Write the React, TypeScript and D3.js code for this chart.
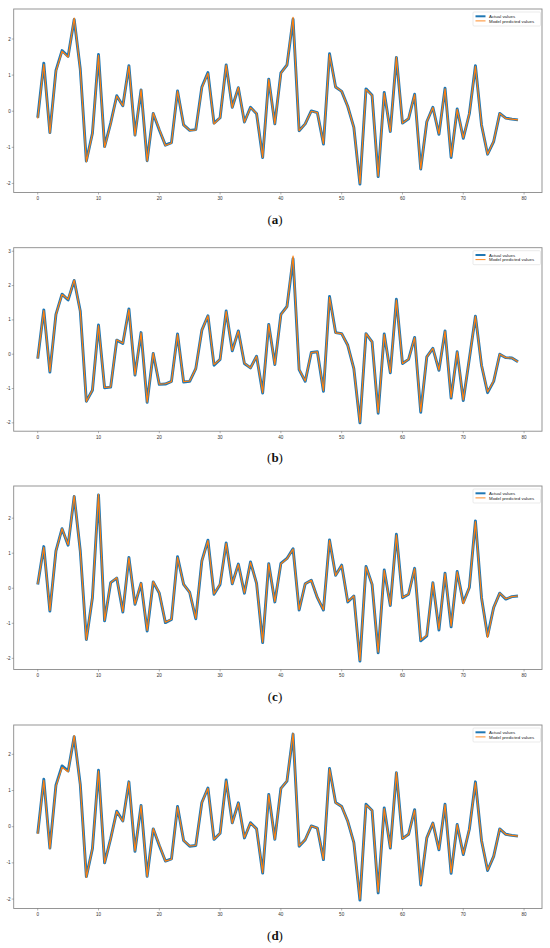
import React from "react";
import * as d3 from "d3";

// x positions 0..79 for every panel
const steps = d3.range(80);

const actualA = [
  -0.18, 1.33, -0.59, 1.13, 1.68, 1.52, 2.54, 1.17, -1.38, -0.61,
  1.57, -0.98, -0.33, 0.43, 0.15, 1.26, -0.66, 0.59, -1.37, -0.06,
  -0.52, -0.94, -0.87, 0.56, -0.38, -0.53, -0.51, 0.67, 1.07, -0.33,
  -0.18, 1.28, 0.11, 0.65, -0.3, 0.11, -0.07, -1.28, 0.89, -0.35,
  1.06, 1.28, 2.55, -0.54, -0.35, 0.01, -0.04, -0.91, 1.59, 0.67,
  0.55, 0.13, -0.45, -2.02, 0.62, 0.44, -1.81, 0.52, -0.56, 1.49,
  -0.33, -0.21, 0.47, -1.6, -0.29, 0.11, -0.64, 0.64, -1.28, 0.06,
  -0.75, -0.07, 1.26, -0.38, -1.19, -0.84, -0.06, -0.19, -0.22, -0.24,
];
const predictedA = [
  -0.2, 1.3, -0.6, 1.1, 1.66, 1.5, 2.58, 1.15, -1.4, -0.62,
  1.55, -1.0, -0.35, 0.42, 0.15, 1.25, -0.67, 0.6, -1.38, -0.05,
  -0.5, -0.95, -0.88, 0.56, -0.38, -0.53, -0.52, 0.65, 1.05, -0.35,
  -0.18, 1.28, 0.1, 0.66, -0.3, 0.1, -0.06, -1.28, 0.88, -0.35,
  1.05, 1.28, 2.6, -0.54, -0.35, 0.0, -0.04, -0.9, 1.57, 0.67,
  0.55, 0.13, -0.45, -2.0, 0.6, 0.44, -1.8, 0.5, -0.56, 1.5,
  -0.33, -0.2, 0.46, -1.6, -0.29, 0.1, -0.63, 0.62, -1.26, 0.05,
  -0.74, -0.07, 1.24, -0.38, -1.19, -0.83, -0.06, -0.2, -0.22, -0.24,
];

const actualB = [
  -0.13, 1.29, -0.52, 1.16, 1.75, 1.58, 2.15, 1.26, -1.37, -1.05,
  0.85, -0.98, -0.96, 0.41, 0.31, 1.32, -0.61, 0.63, -1.4, 0.02,
  -0.88, -0.87, -0.79, 0.59, -0.81, -0.79, -0.42, 0.7, 1.12, -0.32,
  -0.15, 1.26, 0.1, 0.68, -0.27, -0.4, -0.06, -1.13, 0.87, -0.3,
  1.16, 1.39, 2.78, -0.45, -0.79, 0.05, 0.07, -1.08, 1.68, 0.63,
  0.6, 0.26, -0.42, -2.0, 0.6, 0.36, -1.72, 0.59, -0.54, 1.6,
  -0.27, -0.15, 0.49, -1.69, -0.08, 0.17, -0.47, 0.68, -1.28, 0.07,
  -1.35, -0.13, 1.11, -0.32, -1.12, -0.79, 0.0, -0.1, -0.11, -0.22,
];
const predictedB = [
  -0.12, 1.27, -0.5, 1.15, 1.74, 1.6, 2.16, 1.25, -1.38, -1.04,
  0.83, -0.97, -0.95, 0.42, 0.32, 1.3, -0.6, 0.62, -1.4, 0.03,
  -0.87, -0.86, -0.8, 0.58, -0.8, -0.78, -0.42, 0.7, 1.12, -0.3,
  -0.15, 1.25, 0.11, 0.67, -0.26, -0.4, -0.06, -1.12, 0.86, -0.3,
  1.15, 1.38, 2.86, -0.44, -0.78, 0.05, 0.07, -1.06, 1.66, 0.62,
  0.6, 0.26, -0.42, -1.98, 0.6, 0.36, -1.7, 0.58, -0.53, 1.58,
  -0.27, -0.15, 0.48, -1.67, -0.08, 0.17, -0.46, 0.67, -1.26, 0.07,
  -1.33, -0.13, 1.1, -0.32, -1.1, -0.78, 0.0, -0.1, -0.11, -0.22,
];

const actualC = [
  0.11, 1.19, -0.65, 1.07, 1.7, 1.23, 2.62, 1.07, -1.46, -0.27,
  2.66, -0.93, 0.16, 0.29, -0.68, 0.88, -0.46, 0.14, -1.22, 0.18,
  -0.14, -0.98, -0.89, 0.9, 0.11, -0.12, -0.87, 0.78, 1.37, -0.17,
  0.11, 1.29, 0.13, 0.69, -0.14, 0.75, 0.14, -1.55, 0.7, -0.39,
  0.71, 0.85, 1.13, -0.62, 0.13, 0.23, -0.27, -0.62, 1.38, 0.37,
  0.66, -0.39, -0.22, -2.08, 0.62, 0.11, -1.84, 0.52, -0.49, 1.54,
  -0.27, -0.17, 0.57, -1.5, -1.36, 0.16, -1.19, 0.43, -1.1, 0.48,
  -0.41, 0.02, 1.92, -0.27, -1.36, -0.55, -0.14, -0.31, -0.24, -0.22,
];
const predictedC = [
  0.12, 1.17, -0.63, 1.06, 1.7, 1.24, 2.64, 1.06, -1.47, -0.26,
  2.68, -0.92, 0.16, 0.3, -0.67, 0.87, -0.45, 0.15, -1.2, 0.19,
  -0.13, -0.97, -0.88, 0.88, 0.11, -0.12, -0.86, 0.77, 1.36, -0.16,
  0.12, 1.28, 0.13, 0.68, -0.13, 0.74, 0.14, -1.54, 0.7, -0.38,
  0.7, 0.84, 1.12, -0.61, 0.13, 0.23, -0.26, -0.61, 1.37, 0.37,
  0.65, -0.38, -0.22, -2.06, 0.61, 0.12, -1.82, 0.51, -0.48, 1.52,
  -0.26, -0.17, 0.56, -1.48, -1.34, 0.16, -1.17, 0.42, -1.08, 0.47,
  -0.44, 0.03, 1.9, -0.27, -1.4, -0.55, -0.14, -0.3, -0.24, -0.22,
];

const actualD = [
  -0.19, 1.31, -0.59, 1.15, 1.68, 1.54, 2.49, 1.17, -1.38, -0.61,
  1.56, -1.0, -0.33, 0.43, 0.16, 1.24, -0.68, 0.59, -1.37, -0.06,
  -0.52, -0.95, -0.89, 0.56, -0.38, -0.54, -0.52, 0.67, 1.07, -0.35,
  -0.18, 1.29, 0.11, 0.66, -0.31, 0.11, -0.06, -1.28, 0.89, -0.35,
  1.06, 1.26, 2.56, -0.54, -0.36, 0.02, -0.04, -0.91, 1.61, 0.67,
  0.56, 0.15, -0.44, -2.03, 0.62, 0.45, -1.83, 0.52, -0.59, 1.49,
  -0.33, -0.21, 0.47, -1.61, -0.31, 0.1, -0.64, 0.62, -1.29, 0.06,
  -0.77, -0.07, 1.24, -0.38, -1.21, -0.82, -0.06, -0.21, -0.24, -0.26,
];
const predictedD = [
  -0.2, 1.28, -0.6, 1.12, 1.64, 1.52, 2.52, 1.15, -1.4, -0.6,
  1.54, -1.0, -0.34, 0.42, 0.15, 1.24, -0.67, 0.58, -1.38, -0.05,
  -0.5, -0.95, -0.9, 0.55, -0.38, -0.53, -0.52, 0.66, 1.06, -0.35,
  -0.18, 1.27, 0.1, 0.65, -0.3, 0.1, -0.06, -1.27, 0.88, -0.35,
  1.05, 1.27, 2.58, -0.53, -0.36, 0.02, -0.04, -0.9, 1.6, 0.66,
  0.56, 0.15, -0.44, -2.0, 0.6, 0.45, -1.8, 0.5, -0.58, 1.5,
  -0.33, -0.21, 0.46, -1.6, -0.31, 0.1, -0.63, 0.61, -1.27, 0.06,
  -0.76, -0.07, 1.22, -0.38, -1.2, -0.82, -0.06, -0.21, -0.24, -0.26,
];

const xTicks = [0, 10, 20, 30, 40, 50, 60, 70, 80];
const legendLabels = ["Actual values", "Model predicted values"];
const panelLabels = ["a", "b", "c", "d"];

const panels = [
  { actual: actualA, predicted: predictedA, top: 9 },
  { actual: actualB, predicted: predictedB, top: 247.7 },
  { actual: actualC, predicted: predictedC, top: 486 },
  { actual: actualD, predicted: predictedD, top: 725 },
];

const BLUE = "#1f77b4";
const ORANGE = "#ff7f0e";
const left = 13.7;
const right = 542;
const boxH = 183.5;
const tickFont = "Liberation Sans, Arial, sans-serif";

function Panel({ actual, predicted, top, label }: any) {
  const x = d3.scaleLinear().domain([-3.95, 82.95]).range([left, right]);
  const lo = Math.min(d3.min(actual as number[])!, d3.min(predicted as number[])!);
  const hi = Math.max(d3.max(actual as number[])!, d3.max(predicted as number[])!);
  const pad = (hi - lo) * 0.05;
  const y = d3
    .scaleLinear()
    .domain([lo - pad, hi + pad])
    .range([top + boxH, top]);
  const yTicks = d3.range(Math.ceil(lo - pad), Math.floor(hi + pad) + 1);
  const line = d3
    .line<number>()
    .x((_, i) => x(steps[i]))
    .y((d) => y(d));

  const legX = 473;
  const legY = top + 3;

  return (
    <g>
      <rect x={left} y={top} width={right - left} height={boxH} fill="white" />
      <path d={line(actual)!} fill="none" stroke={BLUE} strokeWidth={2.9} strokeLinejoin="round" />
      <path d={line(predicted)!} fill="none" stroke={ORANGE} strokeWidth={1.2} strokeLinejoin="round" />
      <rect
        x={left}
        y={top}
        width={right - left}
        height={boxH}
        fill="none"
        stroke="#8a8a8a"
        strokeWidth={0.9}
      />
      {xTicks.map((t) => (
        <g key={t}>
          <line x1={x(t)} x2={x(t)} y1={top + boxH} y2={top + boxH + 2} stroke="#666" strokeWidth={0.5} />
          <text
            x={x(t)}
            y={top + boxH + 7.5}
            fontSize={4.6}
            textAnchor="middle"
            fill="#333"
            fontFamily={tickFont}
          >
            {t}
          </text>
        </g>
      ))}
      {yTicks.map((t) => (
        <g key={t}>
          <line x1={left - 2} x2={left} y1={y(t)} y2={y(t)} stroke="#666" strokeWidth={0.5} />
          <text
            x={left - 3}
            y={y(t) + 1.6}
            fontSize={4.6}
            textAnchor="end"
            fill="#333"
            fontFamily={tickFont}
          >
            {t}
          </text>
        </g>
      ))}
      <rect
        x={legX}
        y={legY}
        width={67.5}
        height={14}
        rx={1}
        fill="white"
        stroke="#d6d6d6"
        strokeWidth={0.5}
      />
      {legendLabels.map((s, i) => (
        <g key={s}>
          <line
            x1={legX + 2.5}
            x2={legX + 12.5}
            y1={legY + 4.3 + i * 4.6}
            y2={legY + 4.3 + i * 4.6}
            stroke={i === 0 ? BLUE : ORANGE}
            strokeWidth={i === 0 ? 2 : 0.9}
          />
          <text
            x={legX + 16}
            y={legY + 5.9 + i * 4.6}
            fontSize={4.4}
            fill="#222"
            fontFamily={tickFont}
          >
            {s}
          </text>
        </g>
      ))}
      <text
        x={275}
        y={top + 214.5}
        fontSize={13}
        textAnchor="middle"
        fill="#111"
        fontFamily="Liberation Serif, DejaVu Serif, serif"
      >
        (<tspan fontWeight="bold">{label}</tspan>)
      </text>
    </g>
  );
}

export default function App() {
  return (
    <svg
      width={550}
      height={948}
      style={{ position: "absolute", left: 0, top: 0, background: "white" }}
    >
      <rect width={550} height={948} fill="white" />
      {panels.map((p, i) => (
        <Panel key={i} actual={p.actual} predicted={p.predicted} top={p.top} label={panelLabels[i]} />
      ))}
    </svg>
  );
}
